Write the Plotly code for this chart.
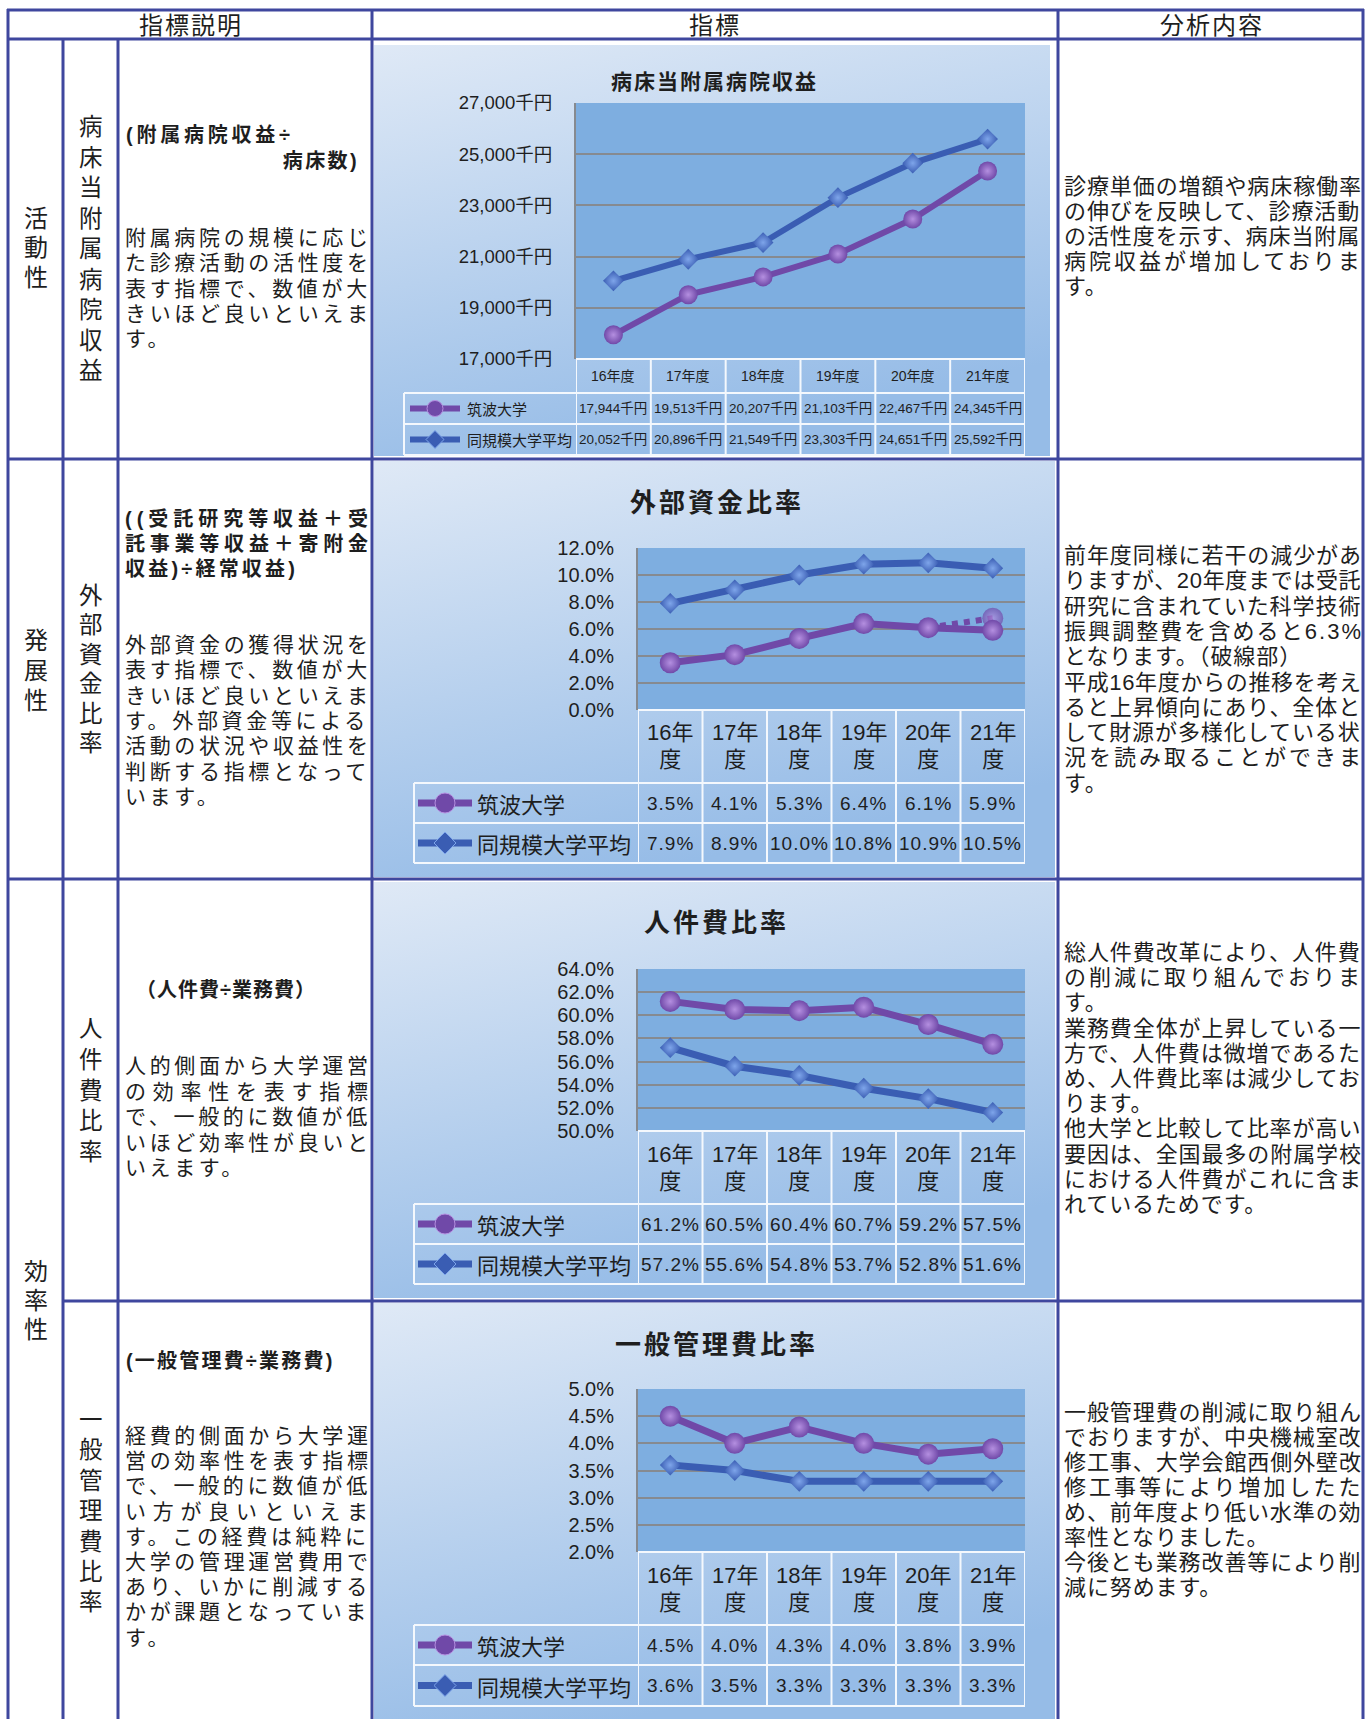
import base64
import plotly.graph_objects as go

W, H = 1370, 1719
FONT = "Noto Sans CJK JP"
BLOCK_FONT = "Liberation Sans, Noto Sans CJK JP"
NUM_FONT = "Liberation Sans Narrow, Liberation Sans, Noto Sans CJK JP"
TXT = "#1e1e1e"

# ---------------- data ----------------
years = ["16年度", "17年度", "18年度", "19年度", "20年度", "21年度"]
series_names = ["筑波大学", "同規模大学平均"]

hospital_tsukuba = [17944, 19513, 20207, 21103, 22467, 24345]
hospital_peer = [20052, 20896, 21549, 23303, 24651, 25592]
external_tsukuba = [3.5, 4.1, 5.3, 6.4, 6.1, 5.9]
external_peer = [7.9, 8.9, 10.0, 10.8, 10.9, 10.5]
external_adjusted_years = ["20年度", "21年度"]
external_adjusted = [6.1, 6.8]
personnel_tsukuba = [61.2, 60.5, 60.4, 60.7, 59.2, 57.5]
personnel_peer = [57.2, 55.6, 54.8, 53.7, 52.8, 51.6]
admin_tsukuba = [4.5, 4.0, 4.3, 4.0, 3.8, 3.9]
admin_peer = [3.6, 3.5, 3.3, 3.3, 3.3, 3.3]

chart_titles = ["病床当附属病院収益", "外部資金比率", "人件費比率", "一般管理費比率"]
y_ranges = [[17000, 27000], [0, 12], [50, 64], [2, 5]]
y_dticks = [2000, 2, 2, 0.5]
y_tickformats = [",d", ".1f", ".1f", ".1f"]
y_suffixes = ["千円", "%", "%", "%"]
series_a = [hospital_tsukuba, external_tsukuba, personnel_tsukuba, admin_tsukuba]
series_b = [hospital_peer, external_peer, personnel_peer, admin_peer]

# ---------------- style / layout ----------------
LINE = "#3f479e"
PURPLE = "#7049a8"
PURPLE_HI = "#b48fe0"
BLUE = "#3a5db3"
BLUE_HI = "#7ea5ea"
PLOT_FILL = "#7eaee0"
GRID = "#868a90"


def P(x):
    return x / W


def Q(y):
    return 1 - y / H


shapes, anns, images = [], [], []


def est_width(s):
    w = 0.0
    for c in s:
        o = ord(c)
        if c.isdigit():
            w += 0.556
        elif c in ".,":
            w += 0.278
        elif c == "%":
            w += 0.889
        elif c in "()":
            w += 0.333
        elif o < 0x2000:
            w += 0.6
        else:
            w += 1.0
    return w


def add_text(x, y, s, size, anchor="left", bold=False, ls=0.0, color=TXT, xref="paper",
             family=FONT):
    t = s
    if bold:
        t = "<b>" + t + "</b>"
    if abs(ls) > 0.01:
        t = '<span style="letter-spacing:%.2fpx">%s</span>' % (ls, t)
    anns.append(dict(x=P(x) if xref == "paper" else x, y=Q(y), xref=xref, yref="paper",
                     text=t, showarrow=False, xanchor=anchor, yanchor="middle",
                     borderpad=0, font=dict(size=size, family=family, color=color)))


def add_block(x0, x1, y0, step, blocks, size, default_ls, bold=False, justify_last=False,
              pre=None):
    """One multi-line annotation; base font sets the line pitch, inner spans set glyph size."""
    parts = []
    n = 0
    for block in blocks:
        for j, line in enumerate(block):
            last = (j == len(block) - 1) and not justify_last
            if not last and len(line) > 1:
                ls = (x1 - x0 - est_width(line) * size) / (len(line) - 1)
            else:
                ls = default_ls
            body = line
            if pre and n in pre:
                body = pre[n] + line
            if bold:
                body = "<b>" + body + "</b>"
            parts.append('<span style="font-size:%.1fpx;letter-spacing:%.2fpx">%s</span>'
                         % (size, ls, body))
            n += 1
    base = step / 1.3
    yc = y0 + (n - 1) * step / 2.0
    anns.append(dict(x=P(x0), y=Q(yc), xref="paper", yref="paper", text="<br>".join(parts),
                     showarrow=False, xanchor="left", yanchor="middle", align="left",
                     borderpad=0, font=dict(size=base, family=BLOCK_FONT, color=TXT)))


def hline(y, x0, x1, color, w):
    shapes.append(dict(type="line", xref="paper", yref="paper", x0=P(x0), x1=P(x1),
                       y0=Q(y), y1=Q(y), line=dict(color=color, width=w), layer="above"))


def vline(x, y0, y1, color, w):
    shapes.append(dict(type="line", xref="paper", yref="paper", x0=P(x), x1=P(x),
                       y0=Q(y0), y1=Q(y1), line=dict(color=color, width=w), layer="above"))


# gradient image for chart panels
svg = ('<svg xmlns="http://www.w3.org/2000/svg" width="200" height="200" preserveAspectRatio="none">'
       '<defs><linearGradient id="g" x1="0" y1="0" x2="0.35" y2="1">'
       '<stop offset="0" stop-color="#dfe9f6"/><stop offset="1" stop-color="#96bce7"/>'
       '</linearGradient></defs><rect width="200" height="200" fill="url(#g)"/></svg>')
GRAD = "data:image/svg+xml;base64," + base64.b64encode(svg.encode("utf-8")).decode("ascii")

geo = [
    dict(panel=(374, 45, 1050, 456), plot=(576, 103, 1025, 359), hb=393, r1=424, r2=455,
         leg=404, ty=80, big=False),
    dict(panel=(374, 461, 1055, 877), plot=(638, 548, 1025, 710), hb=783, r1=823, r2=863,
         leg=414, ty=500, big=True),
    dict(panel=(374, 882, 1055, 1298), plot=(638, 969, 1025, 1131), hb=1204, r1=1244, r2=1284,
         leg=414, ty=920, big=True),
    dict(panel=(374, 1303, 1055, 1722), plot=(638, 1389, 1025, 1552), hb=1625, r1=1665, r2=1706,
         leg=414, ty=1342, big=True),
]

fig = go.Figure()
layout_axes = {}

for k in range(4):
    g = geo[k]
    n = k + 1
    xa = "x" if n == 1 else "x%d" % n
    ya = "y" if n == 1 else "y%d" % n
    big = g["big"]
    px0, py0, px1, py1 = g["panel"]
    pl, pt, pr, pb = g["plot"]

    images.append(dict(source=GRAD, xref="paper", yref="paper", x=P(px0), y=Q(py0),
                       sizex=(px1 - px0) / W, sizey=(py1 - py0) / H, sizing="stretch",
                       xanchor="left", yanchor="top", layer="below"))
    shapes.append(dict(type="rect", xref="paper", yref="paper", x0=P(pl), x1=P(pr),
                       y0=Q(pb), y1=Q(pt), fillcolor=PLOT_FILL, line=dict(width=0), layer="below"))

    lw = 7 if big else 6
    cs = 21 if big else 19
    ds = 16

    if n == 2:
        fig.add_trace(go.Scatter(
            x=external_adjusted_years, y=external_adjusted, mode="lines+markers",
            line=dict(color=PURPLE, width=6, dash="dot"),
            marker=dict(symbol="circle", size=[0, cs], color=PURPLE,
                        gradient=dict(type="radial", color=PURPLE_HI), line=dict(width=0)),
            xaxis=xa, yaxis=ya, showlegend=False, hoverinfo="skip", cliponaxis=False))

    fig.add_trace(go.Scatter(
        x=years, y=series_b[k], mode="lines+markers", name=series_names[1],
        line=dict(color=BLUE, width=lw),
        marker=dict(symbol="diamond", size=ds, color=BLUE,
                    gradient=dict(type="radial", color=BLUE_HI), line=dict(width=0)),
        xaxis=xa, yaxis=ya, showlegend=False, cliponaxis=False))
    fig.add_trace(go.Scatter(
        x=years, y=series_a[k], mode="lines+markers", name=series_names[0],
        line=dict(color=PURPLE, width=lw),
        marker=dict(symbol="circle", size=cs, color=PURPLE,
                    gradient=dict(type="radial", color=PURPLE_HI), line=dict(width=0)),
        xaxis=xa, yaxis=ya, showlegend=False, cliponaxis=False))

    layout_axes["xaxis" if n == 1 else "xaxis%d" % n] = dict(
        domain=[P(pl), P(pr)], anchor=ya, type="category", categoryorder="array",
        categoryarray=years, range=[-0.5, 5.5], showticklabels=False, showgrid=False,
        zeroline=False, showline=False, fixedrange=True, automargin=False)
    layout_axes["yaxis" if n == 1 else "yaxis%d" % n] = dict(
        domain=[Q(pb), Q(pt)], anchor=xa, range=y_ranges[k], tick0=y_ranges[k][0],
        dtick=y_dticks[k], tickformat=y_tickformats[k], ticksuffix=y_suffixes[k],
        showgrid=True, gridcolor=GRID, gridwidth=2, zeroline=False, showline=True,
        linecolor=GRID, linewidth=2, ticks="", ticklabelstandoff=18, automargin=False,
        tickfont=dict(size=20 if big else 18.5, family=NUM_FONT, color=TXT), fixedrange=True)

    # chart title
    add_text((px0 + px1) / 2 + 2, g["ty"], chart_titles[k], 26 if big else 21, "center",
             True, 3.0 if big else 2.0)

    # data table under the chart
    hb, r1, r2, leg = g["hb"], g["r1"], g["r2"], g["leg"]
    WL = "#f4f8fd"
    hline(pb, pl, pr, WL, 2)
    for yy in (hb, r1, r2):
        hline(yy, leg, pr, WL, 2)
    vline(leg, hb, r2, WL, 2)
    for i in range(7):
        shapes.append(dict(type="line", xref=xa, yref="paper", x0=i - 0.5, x1=i - 0.5,
                           y0=Q(pb), y1=Q(r2), line=dict(color=WL, width=2), layer="above"))
    hc = (pb + hb) / 2
    c1 = (hb + r1) / 2
    c2 = (r1 + r2) / 2
    for i, yr in enumerate(years):
        if big:
            anns.append(dict(x=yr, y=Q(hc), xref=xa, yref="paper",
                             text='<span style="font-size:22px">%s</span><br><span style="font-size:22px">%s</span>'
                                  % (yr[:-1], yr[-1]),
                             showarrow=False, xanchor="center", yanchor="middle", align="center",
                             borderpad=0, font=dict(size=21, family=NUM_FONT, color=TXT)))
        else:
            add_text(yr, hc, yr, 14, "center", xref=xa, family=NUM_FONT)
        if k == 0:
            va = "{:,}千円".format(series_a[k][i])
            vb = "{:,}千円".format(series_b[k][i])
        else:
            va = "{:.1f}%".format(series_a[k][i])
            vb = "{:.1f}%".format(series_b[k][i])
        vs = 19 if big else 13.5
        vls = 1.0 if big else 0
        add_text(yr, c1, va, vs, "center", xref=xa, ls=vls, family=NUM_FONT)
        add_text(yr, c2, vb, vs, "center", xref=xa, ls=vls, family=NUM_FONT)

    # legend keys
    if big:
        lx0, lx1, mx, r, lwk, tx, fs = 418, 472, 445, 10, 7, 476, 22
    else:
        lx0, lx1, mx, r, lwk, tx, fs = 410, 460, 435, 8, 6, 466, 15
    for (cy, col, hi, sym, nm) in ((c1, PURPLE, PURPLE_HI, "circle", series_names[0]),
                                   (c2, BLUE, BLUE_HI, "diamond", series_names[1])):
        hline(cy, lx0, lx1, col, lwk)
        if sym == "circle":
            shapes.append(dict(type="circle", xref="paper", yref="paper", x0=P(mx - r), x1=P(mx + r),
                               y0=Q(cy + r), y1=Q(cy - r), fillcolor=col, line=dict(color=hi, width=1),
                               layer="above"))
        else:
            d = r + 1
            path = "M %f,%f L %f,%f L %f,%f L %f,%f Z" % (
                P(mx - d), Q(cy), P(mx), Q(cy - d), P(mx + d), Q(cy), P(mx), Q(cy + d))
            shapes.append(dict(type="path", xref="paper", yref="paper", path=path, fillcolor=col,
                               line=dict(color=hi, width=1), layer="above"))
        add_text(tx, cy, nm, fs, "left")

# ---------------- table frame ----------------
for (x, y0, y1) in [(8, 9, H + 5), (63, 39, H + 5), (118, 39, H + 5), (372, 9, H + 5),
                    (1058, 9, H + 5), (1363, 9, H + 5)]:
    vline(x, y0, y1, LINE, 3)
for (y, x0, x1) in [(10, 7, 1364), (39, 7, 1364), (459, 7, 1364), (879, 7, 1364), (1301, 63, 1364)]:
    hline(y, x0, x1, LINE, 3)

# header row
add_text(191, 24, "指標説明", 24, "center", ls=2)
add_text(715, 24, "指標", 24, "center", ls=2)
add_text(1212, 24, "分析内容", 24, "center", ls=2)


# vertical labels
def vtext(x, yc, s, pitch=29.8, size=23.5):
    body = "<br>".join('<span style="font-size:%.1fpx">%s</span>' % (size, c) for c in s)
    anns.append(dict(x=P(x), y=Q(yc), xref="paper", yref="paper", text=body,
                     showarrow=False, xanchor="center", yanchor="middle", align="center",
                     borderpad=0, font=dict(size=pitch / 1.3, family=BLOCK_FONT, color=TXT)))


vtext(36, 248, "活動性", 29.3, 24)
vtext(36, 670, "発展性", 30, 24)
vtext(36, 1300, "効率性", 29, 24)
vtext(91, 249, "病床当附属病院収益", 30.5)
vtext(91, 669, "外部資金比率", 29.4)
vtext(91, 1090, "人件費比率", 30.8)
vtext(91, 1511, "一般管理費比率", 30.4)

# formulas (bold)
FS = 20
add_block(125, 290, 135, 26, [["(附属病院収益÷", "病床数)"]], FS, 2.4, True, justify_last=False,
          pre={1: "　" * 7})
add_block(124, 367, 519, 25, [["((受託研究等収益＋受", "託事業等収益＋寄附金", "収益)÷経常収益)"]],
          FS, 3.2, True)
add_block(135, 315, 990, 25, [["（人件費÷業務費）"]], FS, 1.0, True)
add_block(125, 347, 1361, 25, [["(一般管理費÷業務費)"]], FS, 2.2, True)

# left descriptions
BODY = 21
add_block(124, 367, 237, 25.3, [["附属病院の規模に応じ", "た診療活動の活性度を", "表す指標で、数値が大",
                                 "きいほど良いといえま", "す。"]], BODY, 3.6)
add_block(124, 367, 645, 25.3, [["外部資金の獲得状況を", "表す指標で、数値が大", "きいほど良いといえま",
                                 "す。外部資金等による", "活動の状況や収益性を", "判断する指標となって",
                                 "います。"]], BODY, 3.6)
add_block(124, 367, 1065, 25.5, [["人的側面から大学運営", "の効率性を表す指標", "で、一般的に数値が低",
                                  "いほど効率性が良いと", "いえます。"]], BODY, 3.6)
add_block(124, 367, 1436, 25.2, [["経費的側面から大学運", "営の効率性を表す指標", "で、一般的に数値が低",
                                  "い方が良いといえま", "す。この経費は純粋に", "大学の管理運営費用で",
                                  "あり、いかに削減する", "かが課題となっていま", "す。"]], BODY, 3.6)

# right analysis
RS = 22
add_block(1063, 1360, 186, 25, [["診療単価の増額や病床稼働率", "の伸びを反映して、診療活動",
                                 "の活性度を示す、病床当附属", "病院収益が増加しておりま", "す。"]], RS, 0.9)
add_block(1063, 1360, 556, 25.3, [["前年度同様に若干の減少があ", "りますが、20年度までは受託",
                                   "研究に含まれていた科学技術", "振興調整費を含めると6.3%",
                                   "となります。（破線部）"],
                                  ["平成16年度からの推移を考え", "ると上昇傾向にあり、全体と",
                                   "して財源が多様化している状", "況を読み取ることができま", "す。"]], RS, 0.9)
add_block(1063, 1360, 952, 25.2, [["総人件費改革により、人件費", "の削減に取り組んでおりま", "す。"],
                                  ["業務費全体が上昇している一", "方で、人件費は微増であるた",
                                   "め、人件費比率は減少してお", "ります。"],
                                  ["他大学と比較して比率が高い", "要因は、全国最多の附属学校",
                                   "における人件費がこれに含ま", "れているためです。"]], RS, 0.9)
add_block(1063, 1360, 1412, 25, [["一般管理費の削減に取り組ん", "でおりますが、中央機械室改",
                                  "修工事、大学会館西側外壁改", "修工事等により増加したた",
                                  "め、前年度より低い水準の効", "率性となりました。"],
                                 ["今後とも業務改善等により削", "減に努めます。"]], RS, 0.9)

fig.update_layout(
    width=W, height=H, autosize=False,
    margin=dict(l=0, r=0, t=0, b=0, pad=0, autoexpand=False),
    paper_bgcolor="white", plot_bgcolor="rgba(0,0,0,0)",
    showlegend=False,
    shapes=shapes, annotations=anns, images=images,
    font=dict(family=FONT, color=TXT),
    **layout_axes,
)

fig.write_html("out.html", config={"displayModeBar": False})
